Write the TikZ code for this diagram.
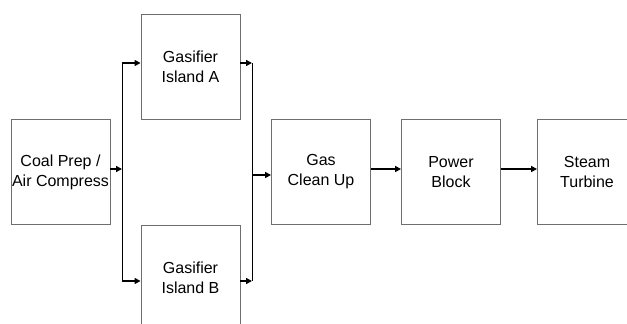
\documentclass[tikz,border=0pt]{standalone}
\usepackage{fontspec}
\setmainfont{Liberation Sans}
\usetikzlibrary{arrows.meta}
\definecolor{boxgray}{HTML}{6E6E6E}
\tikzset{
  blockbox/.style={draw=boxgray, line width=0.9pt, minimum width=99pt, minimum height=105pt,
    inner sep=0pt, align=center, font=\fontsize{16}{20}\selectfont},
  flow/.style={line width=1.5pt, -{Triangle[length=6pt,width=6pt]}},
  bus/.style={line width=1pt}
}
\begin{document}
\begin{tikzpicture}[x=1pt,y=-1pt]
\useasboundingbox (0,0) rectangle (627,324);
\clip (0,0) rectangle (627,324);
\node[blockbox] (coal) at (60.5,172) {Coal Prep /\\Air Compress};
\node[blockbox] (ga) at (190.5,66.5) {Gasifier\\Island A};
\node[blockbox] (gb) at (190.5,278) {Gasifier\\Island B};
\node[blockbox] (gcu) at (321,172) {Gas\\Clean Up};
\node[blockbox] (pb) at (451,172) {Power\\Block};
\node[blockbox] (st) at (587,172) {Steam\\Turbine};
\coordinate (lt) at (122,63);
\coordinate (lb) at (122,281);
\coordinate (lm) at (122,169);
\coordinate (rt) at (252,63);
\coordinate (rb) at (252,281);
\coordinate (rm) at (252,175);
\draw[bus] (lt) -- (lb);
\draw[bus] (rt) -- (rb);
\draw[flow] (coal.east |- lm) -- (lm);
\draw[flow] (lt) -- (ga.west |- lt);
\draw[flow] (lb) -- (gb.west |- lb);
\draw[flow] (ga.east |- rt) -- (rt);
\draw[flow] (gb.east |- rb) -- (rb);
\draw[flow] (rm) -- (gcu.west |- rm);
\draw[flow] (gcu.east |- 0,169) -- (pb.west |- 0,169);
\draw[flow] (pb.east |- 0,169) -- (st.west |- 0,169);
\end{tikzpicture}
\end{document}
